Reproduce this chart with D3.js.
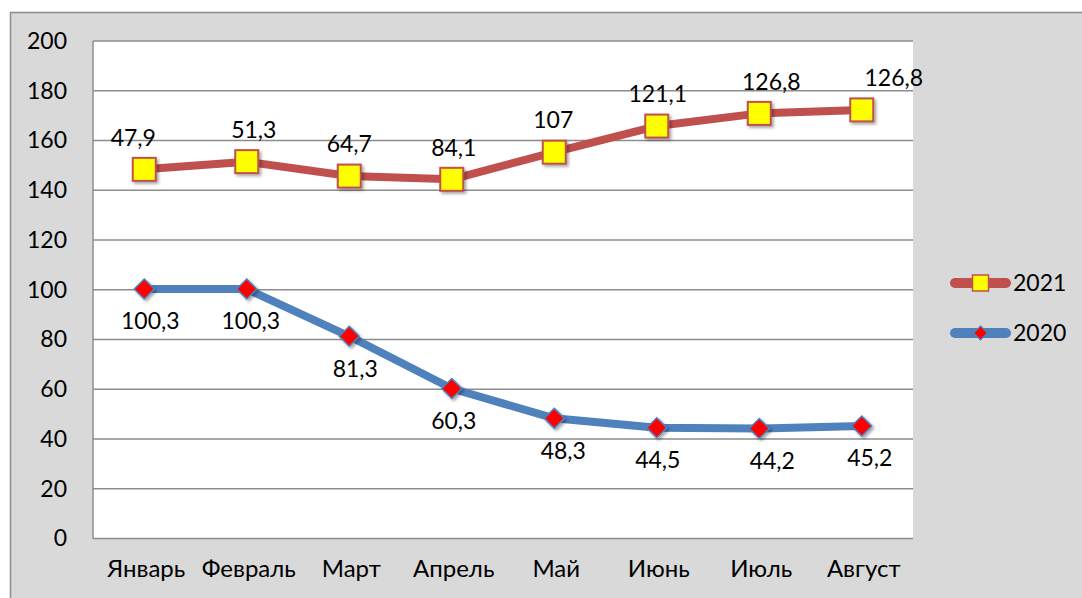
<!DOCTYPE html>
<html><head><meta charset="utf-8">
<script src="https://cdn.jsdelivr.net/npm/d3@7"></script>
<style>html,body{margin:0;padding:0;background:#fff;}svg{display:block;}</style>
</head><body>
<svg id="chart" width="1082" height="598"></svg>
<script>
const categories = ["Январь","Февраль","Март","Апрель","Май","Июнь","Июль","Август"];
const values2021 = [148.4, 151.5, 145.7, 144.4, 155.3, 165.8, 170.9, 172.3];
const labels2021 = ["47,9","51,3","64,7","84,1","107","121,1","126,8","126,8"];
const values2020 = [100.3, 100.3, 81.3, 60.3, 48.3, 44.5, 44.2, 45.2];
const labels2020 = ["100,3","100,3","81,3","60,3","48,3","44,5","44,2","45,2"];
const yTicks = [0,20,40,60,80,100,120,140,160,180,200];
const seriesNames = ["2021","2020"];

// layout-only nudges for the data labels (horizontal, px)
const nudge2021 = [-11, 7, 0, 2, -1, 1, 12, 32];
const nudge2020 = [6, 4, 6, 2, 9, 1, 13, 8];

const FONT = "Lato, 'Open Sans', sans-serif";
const svg = d3.select("#chart");

const defs = svg.append("defs");
const f = defs.append("filter").attr("id","shadow").attr("x","-50%").attr("y","-50%").attr("width","200%").attr("height","200%");
f.append("feDropShadow").attr("dx",2).attr("dy",2).attr("stdDeviation",1.5).attr("flood-color","#000").attr("flood-opacity",0.35);

// outer gray frame
svg.append("rect").attr("x",10.5).attr("y",12.5).attr("width",1100).attr("height",620)
  .attr("fill","#d9d9d9").attr("stroke","#8c8c8c").attr("stroke-width",1.5);

const pL = 93, pR = 913, pT = 41, pB = 538.5;
svg.append("rect").attr("x",pL).attr("y",pT).attr("width",pR-pL).attr("height",pB-pT).attr("fill","#fff");

const x = d3.scaleBand().domain(categories).range([pL,pR]);
const y = d3.scaleLinear().domain([0,200]).range([pB,pT]);
const cx = d => x(d) + x.bandwidth()/2;

// gridlines
svg.append("g").selectAll("line").data(yTicks).join("line")
  .attr("x1",pL).attr("x2",pR).attr("y1",d=>y(d)).attr("y2",d=>y(d))
  .attr("stroke","#8c8c8c").attr("stroke-width",1.5);
svg.append("line").attr("x1",pL).attr("x2",pL).attr("y1",pT).attr("y2",pB)
  .attr("stroke","#8c8c8c").attr("stroke-width",1.5);

// y axis labels
const yAxis = d3.axisLeft(y).tickValues(yTicks).tickSize(0).tickPadding(26);
const gy = svg.append("g").attr("transform",`translate(${pL},0)`).call(yAxis);
gy.select(".domain").remove();
gy.selectAll("text").attr("font-family",FONT).attr("font-size",23).attr("fill","#000");

// x axis labels
const xAxis = d3.axisBottom(x).tickSize(0).tickPadding(21);
const gx = svg.append("g").attr("transform",`translate(0,${pB})`).call(xAxis);
gx.select(".domain").remove();
gx.selectAll("text").attr("font-family",FONT).attr("font-size",24).attr("fill","#000").attr("dx",2);

const red = "#c0504d", blue = "#4f81bd";
const line = d3.line().x((d,i)=>cx(categories[i])).y(d=>y(d));

svg.append("path").datum(values2020).attr("d",line).attr("fill","none")
  .attr("stroke",blue).attr("stroke-width",8).attr("stroke-linejoin","round").attr("stroke-linecap","round");
svg.append("path").datum(values2021).attr("d",line).attr("fill","none")
  .attr("stroke",red).attr("stroke-width",8).attr("stroke-linejoin","round").attr("stroke-linecap","round");

const diamond = s => `M0,${-s}L${s},0L0,${s}L${-s},0Z`;
svg.append("g").selectAll("path").data(values2020).join("path")
  .attr("d",diamond(10)).attr("transform",(d,i)=>`translate(${cx(categories[i])},${y(d)})`)
  .attr("fill","#ff0000").attr("stroke",blue).attr("stroke-width",1.5).attr("filter","url(#shadow)");

svg.append("g").selectAll("rect").data(values2021).join("rect")
  .attr("x",(d,i)=>cx(categories[i])-11.5).attr("y",d=>y(d)-11.5).attr("width",23).attr("height",23)
  .attr("fill","#ffff00").attr("stroke",red).attr("stroke-width",2).attr("filter","url(#shadow)");

svg.append("g").selectAll("text").data(values2021).join("text")
  .attr("x",(d,i)=>cx(categories[i])+nudge2021[i]).attr("y",d=>y(d)-32).attr("dy","0.36em")
  .attr("text-anchor","middle").attr("font-family",FONT).attr("font-size",23).attr("fill","#000")
  .text((d,i)=>labels2021[i]);
svg.append("g").selectAll("text").data(values2020).join("text")
  .attr("x",(d,i)=>cx(categories[i])+nudge2020[i]).attr("y",d=>y(d)+32).attr("dy","0.36em")
  .attr("text-anchor","middle").attr("font-family",FONT).attr("font-size",23).attr("fill","#000")
  .text((d,i)=>labels2020[i]);

// legend
const legend = svg.append("g");
const legY = [283, 333];
const legColors = [red, blue];
seriesNames.forEach((name,i)=>{
  const g = legend.append("g").attr("transform",`translate(0,${legY[i]})`);
  g.append("line").attr("x1",955).attr("x2",1006).attr("y1",0).attr("y2",0)
    .attr("stroke",legColors[i]).attr("stroke-width",10).attr("stroke-linecap","round");
  if(i===0){
    g.append("rect").attr("x",980.5-8).attr("y",-8).attr("width",16).attr("height",16)
      .attr("fill","#ffff00").attr("stroke",red).attr("stroke-width",1.5);
  } else {
    g.append("path").attr("d",diamond(7)).attr("transform","translate(980.5,0)")
      .attr("fill","#ff0000").attr("stroke",blue).attr("stroke-width",1.2);
  }
  g.append("text").attr("x",1013).attr("y",0).attr("dy","0.36em")
    .attr("font-family",FONT).attr("font-size",23).attr("fill","#000").text(name);
});
</script>
</body></html>
